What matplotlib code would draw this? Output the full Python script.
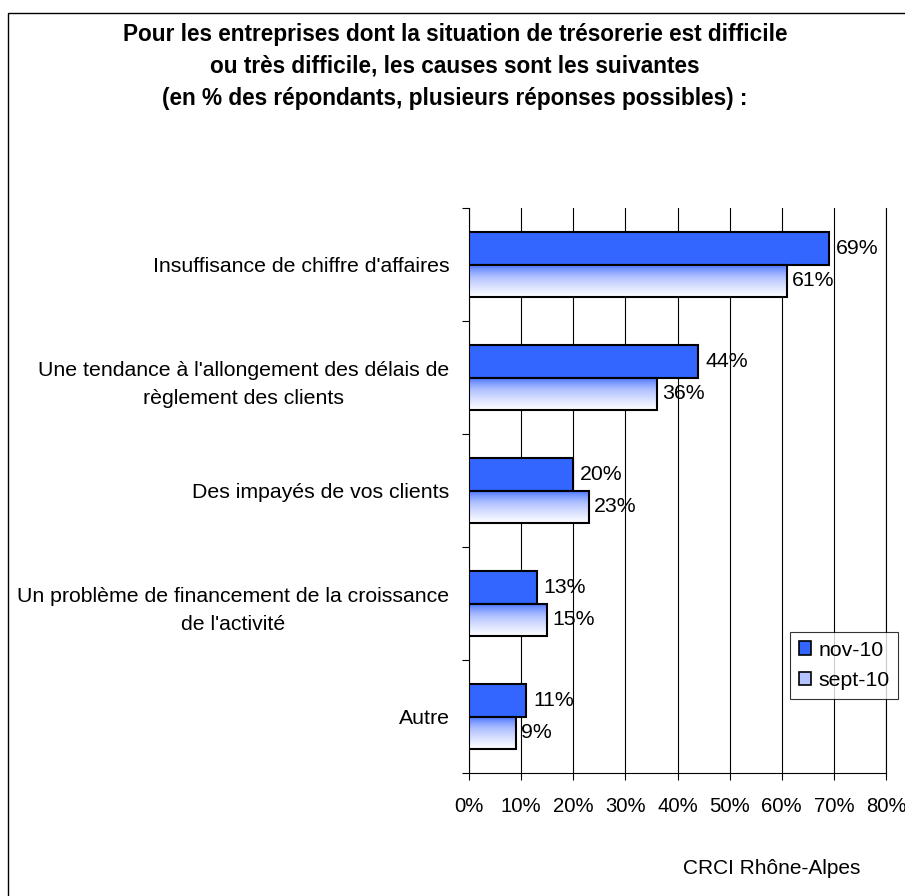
import matplotlib
matplotlib.use("Agg")
import matplotlib.pyplot as plt
import numpy as np
from matplotlib.colors import LinearSegmentedColormap
from matplotlib.patches import Rectangle

plt.rcParams["font.family"] = ["Liberation Sans", "DejaVu Sans"]

categories = [
    "Insuffisance de chiffre d'affaires",
    "Une tendance à l'allongement des délais de\nrèglement des clients",
    "Des impayés de vos clients",
    "Un problème de financement de la croissance\nde l'activité",
    "Autre",
]
nov_10 = [69, 44, 20, 13, 11]
sept_10 = [61, 36, 23, 15, 9]
series_names = ["nov-10", "sept-10"]
xticks = [0, 10, 20, 30, 40, 50, 60, 70, 80]

title = ("Pour les entreprises dont la situation de trésorerie est difficile\n"
         "ou très difficile, les causes sont les suivantes\n"
         "(en % des répondants, plusieurs réponses possibles) :")
source = "CRCI Rhône-Alpes"

BLUE = "#3366FF"
FS = 15.3
fade = LinearSegmentedColormap.from_list("fade", [BLUE, "#aebfff", "white"])

fig = plt.figure(figsize=(9.05, 8.96), dpi=100)
ax = fig.add_axes([469 / 905, 1 - 773 / 896, (886 - 469) / 905, (773 - 208) / 896])

h = 0.29
y = np.arange(len(categories))
ax.barh(y - h / 2, nov_10, height=h, color=BLUE, edgecolor="black", lw=1.5, zorder=3)
grad = np.linspace(0, 1, 100).reshape(-1, 1) ** 0.7
for yi, v in zip(y, sept_10):
    # top of the bar blue, fading to white at the bottom
    ax.imshow(grad, extent=[0, v, yi + h, yi], origin="upper", cmap=fade,
              aspect="auto", zorder=3)
    ax.add_patch(Rectangle((0, yi), v, h, fill=False, edgecolor="black",
                           lw=1.5, zorder=4))

for yi, v in zip(y, nov_10):
    ax.text(v + 1.3, yi - h / 2, f"{v}%", va="center", ha="left", fontsize=FS, zorder=5)
for yi, v in zip(y, sept_10):
    ax.text(v + 1.0, yi + h / 2, f"{v}%", va="center", ha="left", fontsize=FS, zorder=5)

ax.set_xlim(0, 80)
ax.set_ylim(len(categories) - 0.5, -0.5)
ax.set_xticks(xticks)
ax.set_xticklabels([f"{t}%" for t in xticks], fontsize=14.6)
ax.set_yticks(np.arange(len(categories) + 1) - 0.5)
ax.set_yticklabels([])
ax.set_yticks(y, minor=True)
ax.set_yticklabels(categories, minor=True, fontsize=FS, multialignment="center",
                   linespacing=1.6)
ax.tick_params(axis="y", which="minor", length=0, pad=14)
ax.tick_params(axis="y", which="major", length=5, direction="out", width=0.8)
ax.tick_params(axis="x", length=5, direction="out", width=0.8, pad=12)
ax.xaxis.grid(True, color="black", lw=0.8, zorder=0)
ax.set_axisbelow(True)
ax.spines["top"].set_visible(False)
for s in ["left", "bottom", "right"]:
    ax.spines[s].set_linewidth(0.8)

handles = [Rectangle((0, 0), 1, 1, facecolor=BLUE, edgecolor="black", lw=1.2),
           Rectangle((0, 0), 1, 1, facecolor="#b4c3ff", edgecolor="black", lw=1.2)]
leg = ax.legend(handles, series_names, loc="upper left",
                bbox_to_anchor=(790 / 905, 1 - 632 / 896), bbox_transform=fig.transFigure,
                fontsize=FS, frameon=True, fancybox=False, handlelength=0.6,
                handleheight=0.6, handletextpad=0.35, borderpad=0.4, labelspacing=0.55,
                borderaxespad=0)
leg.get_frame().set_edgecolor("black")
leg.get_frame().set_linewidth(0.8)
leg.set_zorder(6)

fig.text(455 / 905, 1 - 23 / 896, title, ha="center", va="top", fontsize=16.3,
         fontweight="bold", linespacing=1.5)
fig.text(772 / 905, 1 - 868 / 896, source, ha="center", va="center", fontsize=15)

# outer frame: left and top edges visible, right and bottom run off the image
fig.add_artist(Rectangle((8 / 905, -0.01), 1.0, 1.01 - 13 / 896,
                         transform=fig.transFigure, fill=False, edgecolor="black", lw=1))

fig.savefig("out.png", dpi=100)
